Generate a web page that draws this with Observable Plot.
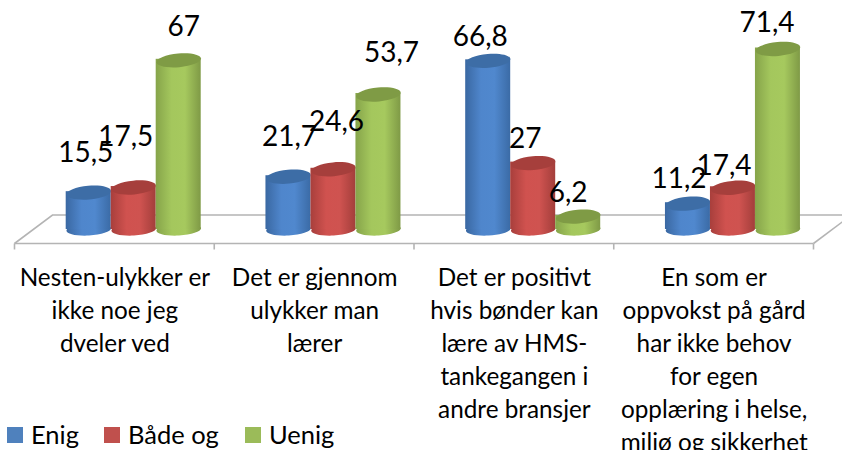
<!DOCTYPE html>
<html>
<head>
<meta charset="utf-8">
<script src="https://cdn.jsdelivr.net/npm/d3@7"></script>
<script src="https://cdn.jsdelivr.net/npm/@observablehq/plot@0.6"></script>
<style>
  html, body { margin: 0; padding: 0; background: #fff; overflow: hidden; }
  #chart { position: relative; width: 842px; height: 450px; overflow: hidden; font-family: Lato, sans-serif; }
  #legend { position: absolute; left: 7px; top: 419px; height: 30px; width: 400px; font-size: 25.5px; color: #000; }
  #legend span.item { position: absolute; top: 0; line-height: 30px; white-space: nowrap; }
  #legend i { position: absolute; left: 0; top: 8px; width: 16px; height: 16px; }
  #legend b { font-weight: 400; margin-left: 24px; }
</style>
</head>
<body>
<div id="chart"></div>
<script>
const categories = [
  "Nesten-ulykker er\nikke noe jeg\ndveler ved",
  "Det er gjennom\nulykker man\nlærer",
  "Det er positivt\nhvis bønder kan\nlære av HMS-\ntankegangen i\nandre bransjer",
  "En som er\noppvokst på gård\nhar ikke behov\nfor egen\nopplæring i helse,\nmiljø og sikkerhet"
];
const seriesNames = ["Enig", "Både og", "Uenig"];
const enig   = [15.5, 21.7, 66.8, 11.2];
const badeOg = [17.5, 24.6, 27, 17.4];
const uenig  = [67, 53.7, 6.2, 71.4];

// appearance
const seriesValues = [enig, badeOg, uenig];
const flat  = ["#4f81bd", "#c0504d", "#9bbb59"];
const tops  = ["#3d6da6", "#a63f3c", "#7f9b45"];
const stops = [
  ["#3a68a2", "#4f86cc", "#5088ce", "#3b6ba6"],
  ["#a83f3c", "#d0524f", "#cf5350", "#a33e3b"],
  ["#86a44a", "#a4c75d", "#a6c95e", "#7f9a46"]
];
// hand placed data labels, [dx, dy] per series per category
const labelNudge = [
  [[-3, -40], [-8, -50], [5, -33]],
  [[1, -40], [3, -47], [13, -41]],
  [[-8, -24], [-8, -24], [-10, -24]],
  [[-9, -25], [-9, -22], [-11, -26]]
];

const rows = [];
categories.forEach((category, c) => seriesNames.forEach((series, s) =>
  rows.push({category, series, s, c, value: seriesValues[s][c]})));

function ellipseSymbol(ratio, tiltDeg) {
  const t = tiltDeg * Math.PI / 180, cos = Math.cos(t), sin = Math.sin(t), k = 0.5523;
  return {
    draw(ctx, size) {
      const rx = Math.sqrt(size / Math.PI), ry = rx * ratio;
      const P = (x, y) => [x * cos - y * sin, x * sin + y * cos];
      ctx.moveTo(...P(rx, 0));
      ctx.bezierCurveTo(...P(rx, k * ry), ...P(k * rx, ry), ...P(0, ry));
      ctx.bezierCurveTo(...P(-k * rx, ry), ...P(-rx, k * ry), ...P(-rx, 0));
      ctx.bezierCurveTo(...P(-rx, -k * ry), ...P(-k * rx, -ry), ...P(0, -ry));
      ctx.bezierCurveTo(...P(k * rx, -ry), ...P(rx, -k * ry), ...P(rx, 0));
      ctx.closePath();
    }
  };
}
const topSym = ellipseSymbol(0.31, -5);
const botSym = ellipseSymbol(0.27, -3);

// function marks are called once per facet: keep only the first call
function once(fn) {
  let done = false;
  return (...args) => {
    if (done) return null;
    done = true;
    return fn(...args);
  };
}

const gradients = once(() => {
  const defs = d3.create("svg:defs");
  stops.forEach((cs, i) => {
    const g = defs.append("linearGradient").attr("id", "cyl" + i);
    [0, 0.35, 0.65, 1].forEach((o, j) =>
      g.append("stop").attr("offset", o).attr("stop-color", cs[j]));
  });
  return defs.node();
});

// floor of the 3D plot, anchored on the facet scale and the zero of y
const floor = once((index, scales) => {
  const {fx, y} = scales;
  const bw = fx(categories[1]) - fx(categories[0]);
  const x0 = fx(categories[0]), x1 = fx(categories[categories.length - 1]) + bw;
  const front = y(0) + 11.5, back = y(0) - 17, depth = 38;
  const g = d3.create("svg:g").attr("stroke", "#b4b4b4").attr("stroke-width", 1.6).attr("fill", "none");
  g.append("path").attr("d", `M${x0},${front}L${x1},${front}`);
  g.append("path").attr("d", `M${x0},${front}L${x0 + depth},${back}L${x1 + depth},${back}`);
  g.append("path").attr("d", `M${x1},${front}L${x1 + depth},${back}`);
  categories.forEach(c => g.append("path").attr("d", `M${fx(c)},${front}v6`));
  g.append("path").attr("d", `M${x1},${front}v6`);
  return g.node();
});

const marks = [gradients, floor];
seriesNames.forEach((name, s) => {
  const data = rows.filter(d => d.s === s);
  const fill = `url(#cyl${s})`;
  marks.push(
    Plot.dot(data, {fx: "category", x: "series", y: () => 0, dy: -3, r: 22.3, symbol: botSym, fill, stroke: "none"}),
    Plot.barY(data, {fx: "category", x: "series", y: "value", fill, insetBottom: 3, insetTop: -1}),
    Plot.dot(data, {fx: "category", x: "series", y: "value", r: 22.3, symbol: topSym, fill: tops[s], stroke: "none"})
  );
});
rows.forEach(d => {
  const [dx, dy] = labelNudge[d.c][d.s];
  marks.push(Plot.text([d], {
    fx: "category", x: "series", y: "value", dx, dy,
    text: v => String(v.value).replace(".", ","),
    fontSize: 28, fill: "#000"
  }));
});
marks.push(Plot.axisFx({
  anchor: "bottom", tickSize: 0, tickPadding: 0, label: null,
  fontSize: 24.3, lineHeight: 1.36, fill: "#000"
}));

const plot = Plot.plot({
  width: 842, height: 450,
  marginLeft: 14.5, marginRight: 28.5, marginTop: 0, marginBottom: 188,
  style: {fontFamily: "Lato, sans-serif", background: "#fff", overflow: "hidden"},
  fx: {domain: categories, padding: 0, round: false, label: null, axis: null},
  x: {domain: seriesNames, range: [65.7, 200.7], padding: 0, round: false, axis: null},
  y: {domain: [0, 80], range: [232, 232 - 2.57 * 80], axis: null},
  marks
});
const root = document.getElementById("chart");
root.appendChild(plot);

const legend = document.createElement("div");
legend.id = "legend";
const legendX = [0, 97, 238];
seriesNames.forEach((name, i) => {
  const item = document.createElement("span");
  item.className = "item";
  item.style.left = legendX[i] + "px";
  item.innerHTML = `<i style="background:${flat[i]}"></i><b>${name}</b>`;
  legend.appendChild(item);
});
root.appendChild(legend);
</script>
</body>
</html>
